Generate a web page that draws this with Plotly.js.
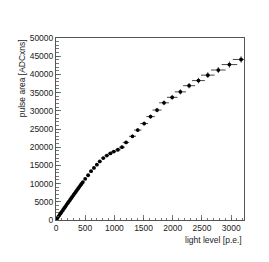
<!DOCTYPE html>
<html><head><meta charset="utf-8">
<script src="https://cdn.plot.ly/plotly-3.0.1.min.js"></script>
<style>html,body{margin:0;padding:0;background:#fff}</style>
</head><body><div id="plot" style="width:269px;height:262px"></div>
<script>
const lightLevel = [20,40,60,80,100,120,140,160,180,200,220,240,260,280,300,320,340,360,380,400,420,440,460,
  500,550,600,650,700,750,810,870,930,990,1060,1130,1200,1310,1400,1510,1620,1730,1850,1990,2130,2280,2440,2600,2780,2970,3170];
const pulseArea = [460,930,1390,1850,2320,2780,3240,3700,4160,4610,5070,5520,5980,6430,6880,7330,7780,8220,8670,9110,9560,10000,10430,
  11300,12300,13400,14300,15200,16100,17000,17700,18300,18800,19300,20000,21300,23000,24700,26500,28400,30200,32200,33700,35200,36900,38300,39800,41200,42700,44100];
const xTicks = [0,500,1000,1500,2000,2500,3000];
const yTicks = [0,5000,10000,15000,20000,25000,30000,35000,40000,45000,50000];

const font = {family:'Liberation Sans, Arial, sans-serif', size:8.5, color:'#222'};
const trace = {
  x: lightLevel, y: pulseArea, type:'scatter', mode:'markers',
  marker:{color:'#000', size:3.8, symbol:'circle'},
  error_x:{type:'percent', value:4.5, color:'#333', thickness:0.9, width:0},
  error_y:{type:'percent', value:2, color:'#333', thickness:0.9, width:0},
  cliponaxis:true
};
const axisCommon = {
  showline:true, linecolor:'#555', linewidth:1, mirror:true,
  ticks:'inside', ticklen:5, tickcolor:'#555', tickwidth:0.8,
  showgrid:false, zeroline:false, tickfont:font
};
const layout = {
  width:269, height:262, margin:{l:56, r:25, t:38, b:42},
  paper_bgcolor:'#fff', plot_bgcolor:'#fff', showlegend:false, font:font,
  xaxis: Object.assign({}, axisCommon, {range:[0,3220], tickvals:xTicks, ticktext:xTicks.map(String),
    minor:{dtick:100, ticks:'inside', ticklen:2.5, tickcolor:'#555'}}),
  yaxis: Object.assign({}, axisCommon, {range:[0,50000], tickvals:yTicks, ticktext:yTicks.map(String),
    minor:{dtick:1000, ticks:'inside', ticklen:2.5, tickcolor:'#555'}}),
  annotations:[
    {text:'light level [p.e.]', xref:'paper', yref:'paper', x:1, y:-0.11, xanchor:'right', yanchor:'middle', showarrow:false, font:font},
    {text:'pulse area [ADCxns]', xref:'paper', yref:'paper', x:-0.18, y:1.005, xanchor:'center', yanchor:'top', textangle:-90, showarrow:false, font:font}
  ]
};
Plotly.newPlot('plot', [trace], layout, {staticPlot:true, displayModeBar:false});
</script></body></html>
